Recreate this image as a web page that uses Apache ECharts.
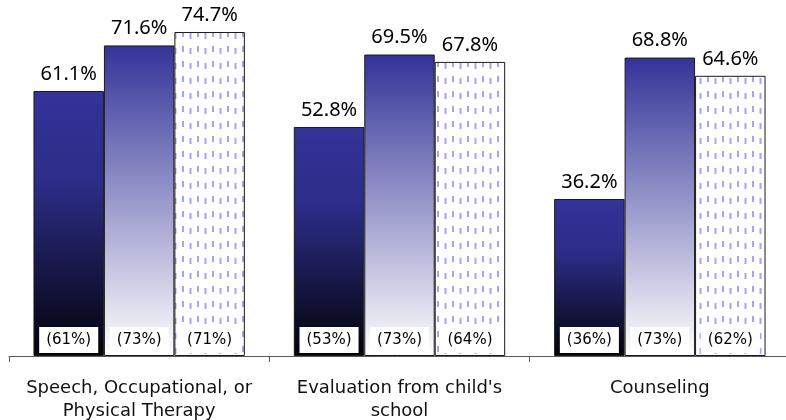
<!DOCTYPE html>
<html>
<head>
<meta charset="utf-8">
<script src="https://cdn.jsdelivr.net/npm/echarts@6/dist/echarts.min.js"></script>
<style>html,body{margin:0;padding:0;background:#fff;}#c{width:786px;height:420px;}</style>
</head>
<body>
<div id="c"></div>
<script>
var categories = ['Speech, Occupational, or\nPhysical Therapy', "Evaluation from child's\nschool", 'Counseling'];
var series1 = [61.1, 52.8, 36.2];
var series2 = [71.6, 69.5, 68.8];
var series3 = [74.7, 67.8, 64.6];
var inner1 = [61, 53, 36];
var inner2 = [73, 73, 73];
var inner3 = [71, 64, 62];

var tile = document.createElement('canvas');
tile.width = 15; tile.height = 15;
var g = tile.getContext('2d');
g.fillStyle = '#ffffff'; g.fillRect(0, 0, 15, 15);
g.fillStyle = '#a3a3ff';
g.fillRect(2, 1, 2, 6);
g.fillRect(9.5, 3, 2, 6);

var chart = echarts.init(document.getElementById('c'), null, {renderer: 'canvas'});
var border = {borderColor: '#1a1a1a', borderWidth: 1};
function mainSeries(data, color) {
  return {
    type: 'bar', xAxisIndex: 0, data: data, barGap: '0%', barCategoryGap: '18.8%',
    itemStyle: Object.assign({color: color}, border),
    label: {show: true, position: 'top', distance: 7, color: '#000',
      fontFamily: 'Noto Sans', fontSize: 20, formatter: function (p) { return p.value.toFixed(1) + '%'; }}
  };
}
function innerSeries(data, inner) {
  return {
    type: 'bar', xAxisIndex: 1, data: data, barGap: '0%', barCategoryGap: '18.8%',
    itemStyle: {color: 'rgba(0,0,0,0)'}, silent: true,
    label: {show: true, position: 'insideBottom', distance: 3, color: '#000',
      fontFamily: 'DejaVu Sans', fontSize: 15, backgroundColor: '#fff', padding: [6, 7, 5, 7],
      formatter: function (p) { return '(' + inner[p.dataIndex] + '%)'; }}
  };
}
chart.setOption({
  animation: false,
  grid: {left: 9, right: -4, top: 9, bottom: 64, containLabel: false, outerBoundsMode: 'none'},
  xAxis: [{
    type: 'category', data: categories,
    axisLine: {lineStyle: {color: '#595959', width: 1}},
    axisTick: {show: true, length: 6, alignWithLabel: false, lineStyle: {color: '#595959'}},
    axisLabel: {color: '#111', fontFamily: 'DejaVu Sans', fontSize: 18, lineHeight: 23, margin: 21, interval: 0}
  }, {
    type: 'category', data: categories, show: false
  }],
  yAxis: {type: 'value', min: 0, max: 80, show: false, splitLine: {show: false}},
  series: [
    mainSeries(series1, new echarts.graphic.LinearGradient(0, 0, 0, 1, [
      {offset: 0, color: '#333399'}, {offset: 0.35, color: '#2c2c88'}, {offset: 1, color: '#020208'}])),
    mainSeries(series2, new echarts.graphic.LinearGradient(0, 0, 0, 1, [
      {offset: 0, color: '#333399'}, {offset: 1, color: '#ffffff'}])),
    mainSeries(series3, {image: tile, repeat: 'repeat'}),
    innerSeries(series1, inner1),
    innerSeries(series2, inner2),
    innerSeries(series3, inner3)
  ]
});
</script>
</body>
</html>
